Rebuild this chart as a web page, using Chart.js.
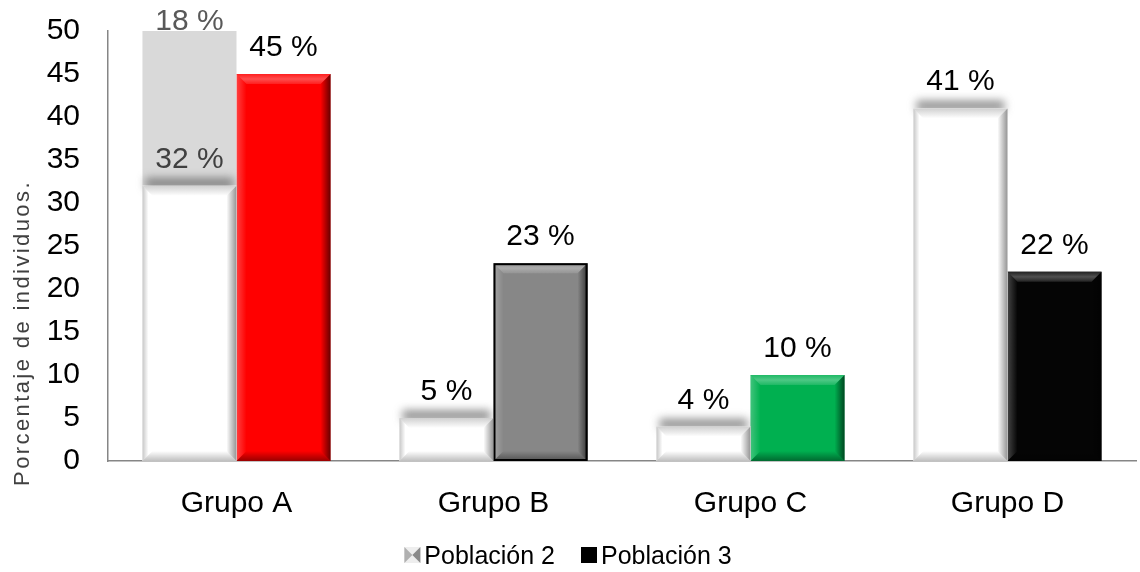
<!DOCTYPE html>
<html>
<head>
<meta charset="utf-8">
<script src="https://cdn.jsdelivr.net/npm/chart.js@4.4.1/dist/chart.umd.min.js"></script>
<style>
  html, body { margin: 0; padding: 0; background: #ffffff; }
  #wrap { width: 1140px; height: 572px; position: relative; }
</style>
</head>
<body>
<div id="wrap"><canvas id="chart"></canvas></div>
<script>
// Chart data
const categories = ['Grupo A', 'Grupo B', 'Grupo C', 'Grupo D'];
const poblacion2 = [32, 5, 4, 41];
const poblacion2Extra = [18, null, null, null];
const poblacion3 = [45, 23, 10, 22];
const yMin = 0;
const yMax = 50;
const yStep = 5;
const legendLabels = ['Población 2', 'Población 3'];
const axisTitle = 'Porcentaje de individuos.';

const FONT = "'Liberation Sans', Arial, sans-serif";
const p3Colors = ['#ff0000', '#878787', '#00b050', '#050505'];
const p3Borders = [0, 2, 0, 0];

function hexToRgb(h) {
  const n = parseInt(h.slice(1), 16);
  return [(n >> 16) & 255, (n >> 8) & 255, n & 255];
}
function mix(hex, amt) {
  const [r, g, b] = hexToRgb(hex);
  const t = amt > 0 ? 255 : 0, a = Math.abs(amt);
  const f = v => Math.round(v + (t - v) * a);
  return `rgb(${f(r)},${f(g)},${f(b)})`;
}

function poly(ctx, pts, fill) {
  ctx.beginPath();
  ctx.moveTo(pts[0][0], pts[0][1]);
  for (let i = 1; i < pts.length; i++) ctx.lineTo(pts[i][0], pts[i][1]);
  ctx.closePath();
  ctx.fillStyle = fill;
  ctx.fill();
}

// Bevelled face of a bar
function bevel(ctx, x0, y0, x1, y1, base, white) {
  const d = Math.min(10, (y1 - y0) / 2, (x1 - x0) / 2);
  let g;
  // top edge
  g = ctx.createLinearGradient(0, y0, 0, y0 + d);
  if (white) { g.addColorStop(0, '#d0d0d0'); g.addColorStop(1, '#ffffff'); }
  else { g.addColorStop(0, mix(base, 0.12)); g.addColorStop(0.5, mix(base, 0.3)); g.addColorStop(1, mix(base, 0.12)); }
  poly(ctx, [[x0, y0], [x1, y0], [x1 - d, y0 + d], [x0 + d, y0 + d]], g);
  // right edge
  g = ctx.createLinearGradient(x1 - d, 0, x1, 0);
  g.addColorStop(0, 'rgba(0,0,0,0)');
  g.addColorStop(1, white ? 'rgba(0,0,0,0.42)' : 'rgba(0,0,0,0.6)');
  poly(ctx, [[x1 - d, y0 + d], [x1, y0], [x1, y1], [x1 - d, y1 - d]], g);
  // left edge
  g = ctx.createLinearGradient(x0, 0, x0 + d, 0);
  if (white) { g.addColorStop(0, 'rgba(0,0,0,0.22)'); g.addColorStop(0.6, 'rgba(0,0,0,0)'); }
  else { g.addColorStop(0, 'rgba(255,255,255,0.25)'); g.addColorStop(1, 'rgba(255,255,255,0)'); }
  poly(ctx, [[x0, y0], [x0 + d, y0 + d], [x0 + d, y1 - d], [x0, y1]], g);
  // bottom edge
  g = ctx.createLinearGradient(0, y1 - d, 0, y1);
  g.addColorStop(0, 'rgba(0,0,0,0)');
  g.addColorStop(1, white ? 'rgba(0,0,0,0.25)' : 'rgba(0,0,0,0.4)');
  poly(ctx, [[x0, y1], [x0 + d, y1 - d], [x1 - d, y1 - d], [x1, y1]], g);
}

const bevelPlugin = {
  id: 'bevelBars',
  afterDatasetsDraw(chart) {
    const ctx = chart.ctx;
    // white bars of Población 2: soft shadow above, then bevelled face
    chart.getDatasetMeta(0).data.forEach(bar => {
      const p = bar.getProps(['x', 'y', 'base', 'width'], true);
      const x0 = p.x - p.width / 2, x1 = p.x + p.width / 2;
      const y0 = Math.min(p.y, p.base), y1 = Math.max(p.y, p.base);
      ctx.save();
      ctx.filter = 'blur(4px)';
      ctx.fillStyle = 'rgba(80,80,80,0.6)';
      ctx.fillRect(x0 + 3, y0 - 8, p.width - 6, 11);
      ctx.restore();
      ctx.save();
      ctx.fillStyle = '#ffffff';
      ctx.fillRect(x0, y0, p.width, y1 - y0);
      bevel(ctx, x0, y0, x1, y1, '#ffffff', true);
      ctx.restore();
    });
    // coloured bars of Población 3
    chart.getDatasetMeta(2).data.forEach((bar, i) => {
      const p = bar.getProps(['x', 'y', 'base', 'width'], true);
      const x0 = p.x - p.width / 2, x1 = p.x + p.width / 2;
      const y0 = Math.min(p.y, p.base), y1 = Math.max(p.y, p.base);
      ctx.save();
      bevel(ctx, x0, y0, x1, y1, p3Colors[i], false);
      if (p3Borders[i]) {
        ctx.strokeStyle = '#000000';
        ctx.lineWidth = p3Borders[i];
        ctx.strokeRect(x0 + 1, y0 + 1, p.width - 2, y1 - y0 - 2);
      }
      ctx.restore();
    });
  }
};

// value labels above each bar segment
const labelPlugin = {
  id: 'valueLabels',
  afterDatasetsDraw(chart) {
    const ctx = chart.ctx;
    ctx.save();
    ctx.font = `30px ${FONT}`;
    ctx.textAlign = 'center';
    ctx.textBaseline = 'alphabetic';
    chart.data.datasets.forEach((ds, di) => {
      const meta = chart.getDatasetMeta(di);
      meta.data.forEach((bar, i) => {
        const v = ds.data[i];
        if (v === null || v === undefined) return;
        const p = bar.getProps(['x', 'y'], true);
        const colors = ds.labelColors;
        ctx.fillStyle = colors ? colors[i] : '#000000';
        const yb = Math.max(p.y - 18, 30);
        ctx.fillText(`${v} %`, p.x, yb);
      });
    });
    ctx.restore();
  }
};

// rotated axis title and legend
const decorPlugin = {
  id: 'decor',
  afterDraw(chart) {
    const ctx = chart.ctx;
    // axis title
    ctx.save();
    ctx.translate(29, 333);
    ctx.rotate(-Math.PI / 2);
    ctx.font = `22px ${FONT}`;
    ctx.letterSpacing = '2.4px';
    ctx.fillStyle = '#404040';
    ctx.textAlign = 'center';
    ctx.textBaseline = 'alphabetic';
    ctx.fillText(axisTitle, 0, 0);
    ctx.restore();

    // legend
    ctx.save();
    ctx.font = `25px ${FONT}`;
    ctx.textBaseline = 'alphabetic';
    ctx.textAlign = 'left';
    const w1 = ctx.measureText(legendLabels[0]).width;
    const w2 = ctx.measureText(legendLabels[1]).width;
    const box = 16, gapText = 4, gapItem = 26;
    const total = box + gapText + w1 + gapItem + box + gapText + w2;
    let x = 568 - total / 2;
    const by = 547, base = 564;
    // bevelled marker for Población 2
    ctx.fillStyle = '#eeeeee';
    ctx.fillRect(x, by, box, box);
    poly(ctx, [[x, by], [x + box / 2, by + box / 2], [x, by + box]], '#b0b0b0');
    poly(ctx, [[x + box, by], [x + box / 2, by + box / 2], [x + box, by + box]], '#8a8a8a');
    ctx.fillStyle = '#000000';
    x += box + gapText;
    ctx.fillText(legendLabels[0], x, base);
    x += w1 + gapItem;
    ctx.fillStyle = '#000000';
    ctx.fillRect(x, by, box, box);
    x += box + gapText;
    ctx.fillText(legendLabels[1], x, base);
    ctx.restore();
  }
};

new Chart(document.getElementById('chart'), {
  type: 'bar',
  data: {
    labels: categories,
    datasets: [
      {
        label: legendLabels[0],
        data: poblacion2,
        stack: 'p2',
        backgroundColor: '#ffffff',
        borderWidth: 0,
        labelColors: ['#404040', '#000000', '#000000', '#000000']
      },
      {
        label: legendLabels[0],
        data: poblacion2Extra,
        stack: 'p2',
        backgroundColor: '#d9d9d9',
        borderWidth: 0,
        labelColors: ['#595959', '#595959', '#595959', '#595959']
      },
      {
        label: legendLabels[1],
        data: poblacion3,
        stack: 'p3',
        backgroundColor: p3Colors,
        borderWidth: 0
      }
    ]
  },
  options: {
    responsive: true,
    maintainAspectRatio: false,
    animation: false,
    datasets: { bar: { categoryPercentage: 0.732, barPercentage: 1 } },
    layout: { autoPadding: false, padding: { top: 31, right: 4, left: 0, bottom: 0 } },
    plugins: { legend: { display: false }, tooltip: { enabled: false } },
    scales: {
      x: {
        stacked: true,
        grid: { display: false, drawTicks: false },
        border: { display: true, color: '#868686', width: 1.5 },
        ticks: { font: { family: FONT, size: 30 }, color: '#000000', padding: 25 },
        afterFit(s) { s.height = 111; }
      },
      y: {
        stacked: true,
        min: yMin,
        max: yMax,
        grid: { display: false, drawTicks: false },
        border: { display: true, color: '#868686', width: 1.5 },
        ticks: { stepSize: yStep, font: { family: FONT, size: 30 }, color: '#000000', padding: 28 },
        afterFit(s) { s.width = 108; s.paddingTop = 0; s.paddingBottom = 0; }
      }
    }
  },
  plugins: [bevelPlugin, labelPlugin, decorPlugin]
});
</script>
</body>
</html>
